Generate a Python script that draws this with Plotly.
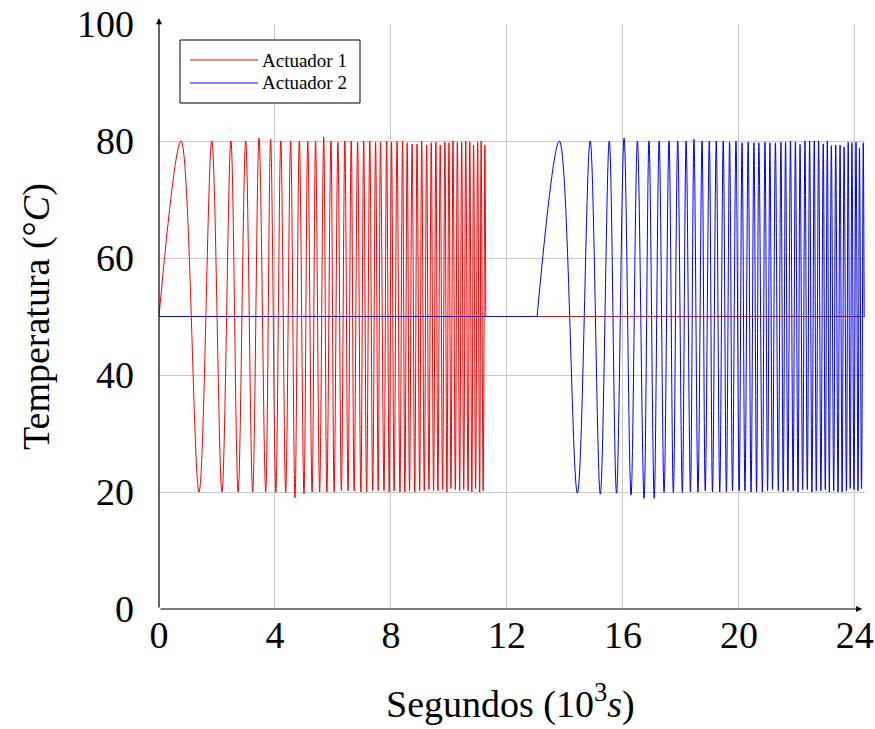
import plotly.graph_objects as go

# ---- data (time in 10^3 s, temperature in °C) ----
baseline = 50

red_peak_t = [0.76, 1.82, 2.48, 2.99, 3.45, 3.85, 4.20, 4.54, 4.84, 5.13, 5.40, 5.68, 5.93, 6.17,
              6.41, 6.63, 6.85, 7.06, 7.27, 7.47, 7.64, 7.85, 8.02, 8.21, 8.40, 8.56, 8.73, 8.90,
              9.06, 9.23, 9.39, 9.55, 9.70, 9.86, 10.00, 10.14, 10.29, 10.44, 10.58, 10.72, 10.85,
              10.99, 11.11, 11.24]
red_peak_v = [80, 80, 80, 80, 80.5,
              80.3, 80, 80, 80, 80, 80, 80.7, 80, 79.8, 80, 80, 79.8, 80, 80, 79.8,
              79.8, 80, 79.8, 79.9, 80, 79.7, 79.5, 79.5, 80, 79.3, 79.7, 79.8, 79.3, 79.8,
              79.7, 80, 79.8, 79.8, 80, 79.8, 79.3, 79.8, 80, 79.3]
red_trough_t = [1.38, 2.17, 2.73, 3.23, 3.68, 4.03, 4.37, 4.69, 5.00, 5.28, 5.54, 5.79, 6.04, 6.29,
                6.52, 6.73, 6.96, 7.16, 7.37, 7.56, 7.76, 7.94, 8.11, 8.31, 8.48, 8.64, 8.82, 8.99,
                9.15, 9.31, 9.47, 9.62, 9.78, 9.93, 10.07, 10.22, 10.37, 10.51, 10.66, 10.79, 10.92,
                11.06, 11.18]
red_trough_v = [20, 20, 20, 20, 20,
                19.9, 19.9, 19.0, 19.7, 20, 20, 20, 20, 20.2, 20.2, 20.2, 20, 20, 20.2,
                20.2, 20.2, 20, 20.2, 20, 20, 20.2, 20, 20.2, 20.2, 20.4, 20.2, 20.2, 20.4,
                20, 20.6, 20.4, 20.2, 20.4, 20.2, 20, 20.6, 20, 20.2]
red_start, red_end = 0.0, 11.27

blue_peak_t = [13.81, 14.87, 15.53, 16.04, 16.50, 16.90, 17.25, 17.59, 17.89, 18.18, 18.45, 18.73,
               18.98, 19.22, 19.46, 19.68, 19.90, 20.11, 20.32, 20.52, 20.69, 20.90, 21.07, 21.26,
               21.45, 21.61, 21.78, 21.95, 22.11, 22.28, 22.44, 22.60, 22.75, 22.91, 23.05, 23.19,
               23.34, 23.49, 23.63, 23.77, 23.90, 24.04, 24.16, 24.29]
blue_peak_v = [80, 80, 80, 80.5, 80,
               80, 80, 80, 80, 80, 80.3, 80, 80, 80, 80, 79.8, 80, 79.7, 79.8, 79.7,
               79.7, 79.8, 79.7, 79.7, 79.8, 79.8, 80, 79.8, 79.4, 80, 80, 80, 80, 79.5,
               80, 79.2, 79.3, 79.3, 79.0, 79.8, 79.7, 79.8, 78.8, 79.7]
blue_trough_t = [14.43, 15.22, 15.78, 16.28, 16.73, 17.08, 17.42, 17.74, 18.05, 18.33, 18.59, 18.84,
                 19.09, 19.34, 19.57, 19.78, 20.01, 20.21, 20.42, 20.61, 20.81, 20.99, 21.16, 21.36,
                 21.53, 21.69, 21.87, 22.04, 22.20, 22.36, 22.52, 22.67, 22.83, 22.98, 23.12, 23.27,
                 23.42, 23.56, 23.71, 23.84, 23.97, 24.11, 24.23]
blue_trough_v = [19.8, 19.6, 19.8, 19.5, 18.9,
                 18.9, 19.9, 19.9, 19.9, 20, 20, 20.2, 20, 20, 20, 20.2, 20.2, 20.2, 20, 20,
                 20, 20.2, 20.4, 20.2, 20, 20.2, 20.2, 20, 20.4, 20.4, 20, 20.2, 20.2, 20.4,
                 20, 20.2, 20, 20, 20.2, 20.6, 20.4, 20.2, 20.6]
blue_start, blue_end = 13.04, 24.32

x_max = 24.35
x_ticks = [0, 4, 8, 12, 16, 20, 24]
y_ticks = [0, 20, 40, 60, 80, 100]
series_names = ["Actuador 1", "Actuador 2"]
x_title = "Segundos (10<sup>3</sup><i>s</i>)"
y_title = "Temperatura (°<i>C</i>)"


def chirp(start, end, pt, pv, tt, tv):
    xs, ys = [start], [baseline]
    for i in range(len(pt)):
        xs.append(pt[i]); ys.append(pv[i])
        if i < len(tt):
            xs.append(tt[i]); ys.append(tv[i])
    xs.append(end); ys.append(baseline)
    return xs, ys


rx, ry = chirp(red_start, red_end, red_peak_t, red_peak_v, red_trough_t, red_trough_v)
bx, by = chirp(blue_start, blue_end, blue_peak_t, blue_peak_v, blue_trough_t, blue_trough_v)

RED, BLUE = "#ff0000", "#0000ff"
fig = go.Figure()
fig.add_trace(go.Scatter(x=rx, y=ry, mode="lines", name=series_names[0], showlegend=False,
                         line=dict(color=RED, width=1, shape="spline", smoothing=1)))
fig.add_trace(go.Scatter(x=[red_end, x_max], y=[baseline, baseline], mode="lines",
                         showlegend=False, line=dict(color=RED, width=1)))
fig.add_trace(go.Scatter(x=[0, blue_start], y=[baseline, baseline], mode="lines",
                         showlegend=False, line=dict(color=BLUE, width=1)))
fig.add_trace(go.Scatter(x=bx, y=by, mode="lines", name=series_names[1], showlegend=False,
                         line=dict(color=BLUE, width=1, shape="spline", smoothing=1)))

serif = "Liberation Serif, Times New Roman, serif"
L, R, T, B = 159, 10, 24, 120
W, H = 875, 729
PW, PH = W - L - R, H - T - B


def px(xp):
    return (xp - L) / PW


def py(yp):
    return 1 - (yp - T) / PH


fig.update_layout(
    width=W, height=H,
    margin=dict(l=L, r=R, t=T, b=B, autoexpand=False),
    plot_bgcolor="white", paper_bgcolor="white",
    font=dict(family=serif, color="black"),
    showlegend=False,
    xaxis=dict(range=[0, x_max], tickvals=x_ticks, ticktext=[str(v) for v in x_ticks],
               showgrid=True, gridcolor="#c8c8c8", gridwidth=1, zeroline=False, automargin=False,
               showline=False, ticks="", tickfont=dict(size=38), ticklabelstandoff=0),
    yaxis=dict(range=[0, 100], tickvals=y_ticks, ticktext=[str(v) for v in y_ticks],
               showgrid=True, gridcolor="#c8c8c8", gridwidth=1, zeroline=False, automargin=False,
               showline=False, ticks="", tickfont=dict(size=38), ticklabelstandoff=24),
)

# axis titles
fig.add_annotation(x=px(510), y=py(706), xref="paper", yref="paper", text=x_title, showarrow=False,
                   xanchor="center", yanchor="bottom", yshift=-22,
                   font=dict(family=serif, size=38, color="black"))
fig.add_annotation(x=px(36), y=py(317), xref="paper", yref="paper", text=y_title, showarrow=False,
                   textangle=-90, xanchor="center", yanchor="middle",
                   font=dict(family=serif, size=38, color="black"))

# axis lines with arrow heads
fig.add_annotation(x=24.25, y=0, ax=0, ay=0, xref="x", yref="y", axref="x", ayref="y",
                   showarrow=True, arrowhead=2, arrowsize=1, arrowwidth=1.2, arrowcolor="black", text="")
fig.add_annotation(x=0, y=101, ax=0, ay=0, xref="x", yref="y", axref="x", ayref="y",
                   showarrow=True, arrowhead=2, arrowsize=1, arrowwidth=1.2, arrowcolor="black", text="")

# legend box drawn by hand
fig.add_shape(type="rect", xref="paper", yref="paper", x0=px(180), x1=px(360), y0=py(103), y1=py(40),
              line=dict(color="black", width=1), fillcolor="white", layer="above")
for i, (nm, col) in enumerate(zip(series_names, [RED, BLUE])):
    yy = 60 + 23 * i
    fig.add_shape(type="line", xref="paper", yref="paper", x0=px(190), x1=px(258), y0=py(yy), y1=py(yy),
                  line=dict(color=col, width=1), layer="above")
    fig.add_annotation(x=px(260), y=py(yy), xref="paper", yref="paper", text=nm, showarrow=False,
                       xanchor="left", yanchor="middle", font=dict(family=serif, size=19, color="black"))

fig.write_html("out.html")
